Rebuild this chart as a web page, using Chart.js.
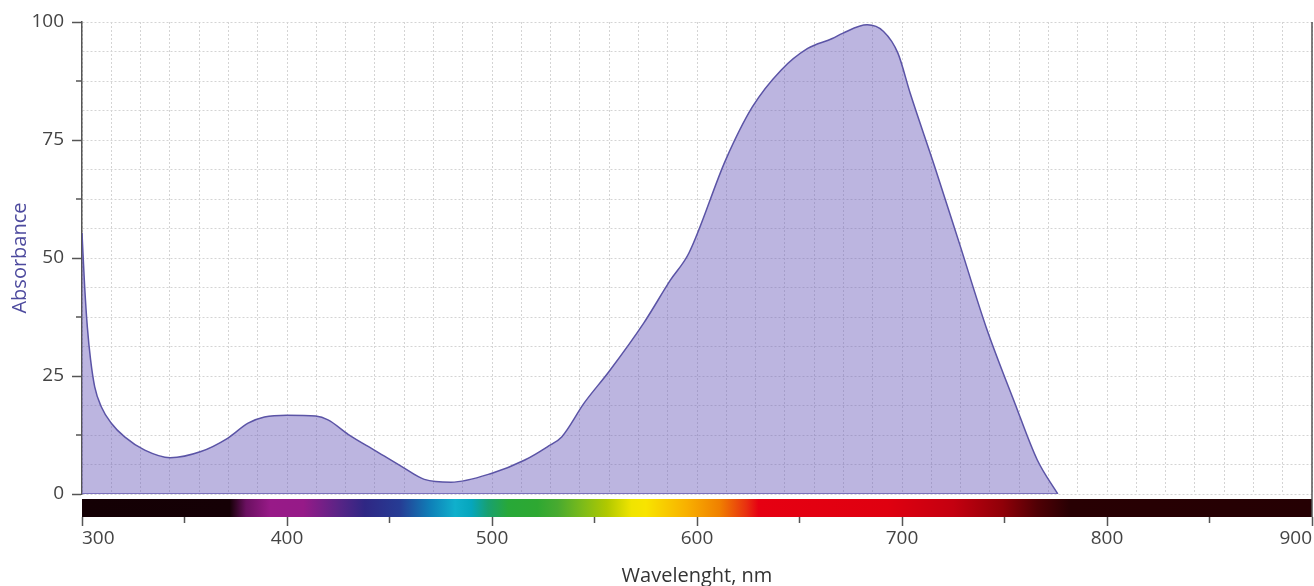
<!DOCTYPE html>
<html>
<head>
<meta charset="utf-8">
<script src="https://cdn.jsdelivr.net/npm/chart.js@4"></script>
<style>
  body { margin: 0; background: #fff; }
  #wrap { width: 1314px; height: 586px; }
</style>
</head>
<body>
<div id="wrap"><canvas id="spectrumChart"></canvas></div>
<script>
// absorbance curve
const wavelengths = [300, 301.3, 302.6, 304.2, 306.2, 309.4, 314.3, 320.8, 330.6, 343, 358, 371, 381, 389, 400, 414, 420, 430,
    443, 456, 467, 480, 500, 516, 527, 534, 545, 557, 574, 587, 596, 614, 627, 641, 654, 666, 671, 683, 691, 698, 704, 716,
    728, 741, 755, 766, 776];
const absorbance = [55.3, 43.9, 35.4, 28.4, 22.7, 18.5, 15, 12.1, 9.3, 7.7, 9.0, 11.8, 15, 16.3, 16.7, 16.5, 15.7, 12.6,
    9.2, 5.8, 3.1, 2.5, 4.4, 7.2, 10, 12.1, 19.3, 25.9, 36.2, 45.3, 51, 70.8, 82, 89.8, 94.4, 96.5, 97.6, 99.4, 98, 93.4, 84.9,
    69.3, 53.1, 35.4, 19.3, 7.2, 0];

// colour band under the plot
const spectrumNm = [300, 372, 380, 392, 408, 425, 438, 455, 470, 482, 490, 498, 508, 522, 532, 545, 556, 568, 575,
    595, 611, 624, 630, 693, 725, 749, 766, 782, 900];
const spectrumColors = ["#140004", "#150005", "#6a1060", "#981a88", "#961a88", "#5a2486", "#2f2784", "#263c94", "#0f80b8",
    "#10b0cc", "#06a6bc", "#18a070", "#28a838", "#2ea832", "#48aa30", "#80bc18", "#b0c800", "#f0e400", "#f8e400",
    "#f8b000", "#f08000", "#e83010", "#e60012", "#df0010", "#c40010", "#900008", "#500005", "#280003", "#250003"];

const xMin = 300, xMax = 900;
const yMin = 0, yMax = 100;
const axisColor = "#555";
const tickFont = { family: "'Open Sans', sans-serif", size: 19 };
const titleFont = { family: "'Open Sans', sans-serif", size: 20, lineHeight: 1 };

const spectrumBar = {
    id: "spectrumBar",
    afterDraw(chart) {
        const { ctx, chartArea, scales } = chart;
        const band = scales.band;
        const x0 = band.getPixelForValue(xMin);
        const x1 = band.getPixelForValue(xMax);
        const grad = ctx.createLinearGradient(x0, 0, x1, 0);
        spectrumNm.forEach((nm, i) => grad.addColorStop((nm - xMin) / (xMax - xMin), spectrumColors[i]));
        ctx.save();
        ctx.fillStyle = grad;
        ctx.fillRect(x0, band.top + 5, x1 - x0, band.bottom - band.top - 5);
        // frame line on the right
        ctx.strokeStyle = axisColor;
        ctx.lineWidth = 1.5;
        ctx.beginPath();
        ctx.moveTo(chartArea.right, chartArea.top);
        ctx.lineTo(chartArea.right, band.bottom);
        ctx.stroke();
        ctx.restore();
    }
};

// short minor tick marks (12.5 on y, 50 nm on x)
const minorTicks = {
    id: "minorTicks",
    afterDraw(chart) {
        const { ctx, scales: { x, y } } = chart;
        ctx.save();
        ctx.strokeStyle = axisColor;
        ctx.lineWidth = 1.5;
        ctx.beginPath();
        y.ticks.forEach(t => {
            if (t.value % 12.5 === 0 && t.value % 25 !== 0) {
                const py = y.getPixelForValue(t.value);
                ctx.moveTo(y.right - 6, py);
                ctx.lineTo(y.right, py);
            }
        });
        x.ticks.forEach(t => {
            if (t.value % 100 !== 0) {
                const px = x.getPixelForValue(t.value);
                ctx.moveTo(px, x.top);
                ctx.lineTo(px, x.top + 6);
            }
        });
        ctx.stroke();
        ctx.restore();
    }
};

const chartCtx = document.getElementById("spectrumChart");

new Chart(chartCtx, {
    type: "line",
    data: {
        datasets: [{
            label: "Absorbance",
            data: wavelengths.map((w, i) => ({ x: w, y: absorbance[i] })),
            borderColor: "#5b54a6",
            borderWidth: 1.5,
            backgroundColor: "rgba(112,98,190,0.47)",
            fill: "origin",
            pointRadius: 0,
            cubicInterpolationMode: "monotone"
        }, {
            label: "Baseline",
            data: [{ x: wavelengths[0], y: 0 }, { x: wavelengths[wavelengths.length - 1], y: 0 }],
            borderColor: "#5b54a6",
            borderWidth: 1.5,
            pointRadius: 0,
            fill: false
        }]
    },
    options: {
        responsive: true,
        maintainAspectRatio: false,
        animation: false,
        layout: { padding: { top: 22, right: 2, bottom: 0, left: 0 } },
        plugins: {
            legend: { display: false },
            tooltip: { enabled: false }
        },
        scales: {
            band: {
                type: "linear",
                position: "bottom",
                weight: 0,
                min: xMin,
                max: xMax,
                ticks: { display: false, stepSize: (xMax - xMin) / 42 },
                grid: { drawTicks: false, color: "#d4d4d4", lineWidth: 1 },
                border: { display: false, dash: [2, 2] },
                afterFit(scale) { scale.height = 23; }
            },
            x: {
                type: "linear",
                position: "bottom",
                weight: 10,
                min: xMin,
                max: xMax,
                ticks: {
                    stepSize: 50,
                    autoSkip: false,
                    align: "inner",
                    maxRotation: 0,
                    padding: 1,
                    color: "#444",
                    font: tickFont,
                    callback: v => (v % 100 === 0 ? v : "")
                },
                grid: {
                    drawOnChartArea: false,
                    tickLength: 9,
                    tickWidth: 1.5,
                    tickColor: c => (c.tick && c.tick.value % 100 === 0 ? axisColor : "transparent")
                },
                border: { display: false },
                title: {
                    display: true,
                    text: "Wavelenght, nm",
                    color: "#333",
                    font: titleFont,
                    padding: { top: 10, bottom: 0 }
                },
                afterFit(scale) { scale.height = 69; }
            },
            y: {
                type: "linear",
                min: yMin,
                max: yMax,
                ticks: {
                    stepSize: 6.25,
                    autoSkip: false,
                    padding: 8,
                    color: "#444",
                    font: tickFont,
                    callback: v => (v % 25 === 0 ? v : "")
                },
                grid: {
                    color: "#d4d4d4",
                    lineWidth: 1,
                    tickLength: 10,
                    tickWidth: 1.5,
                    tickColor: c => (c.tick && c.tick.value % 25 === 0 ? axisColor : "transparent")
                },
                border: { display: true, color: axisColor, width: 1.5, dash: [2, 2] },
                title: {
                    display: true,
                    text: "Absorbance",
                    color: "#4d4a9e",
                    font: titleFont,
                    padding: { top: 10, bottom: 4 }
                },
                afterFit(scale) { scale.width = 82; }
            }
        }
    },
    plugins: [spectrumBar, minorTicks]
});
</script>
</body>
</html>
